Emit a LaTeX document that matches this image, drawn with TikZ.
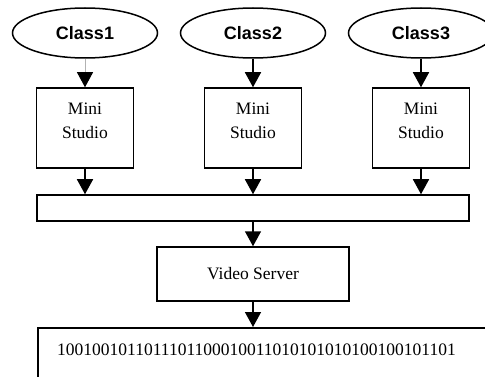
\documentclass[tikz,border=0pt]{standalone}
\usepackage{fontspec}
\setmainfont{Liberation Serif}
\newfontfamily\headfont{Liberation Sans}
\usetikzlibrary{shapes.geometric,arrows.meta}
\begin{document}
\begin{tikzpicture}[x=1pt,y=-1pt,
  line width=1.5pt,
  classnode/.style={draw, ellipse, minimum width=145pt, minimum height=50pt,
    inner sep=0pt, font=\headfont\bfseries\fontsize{18}{21}\selectfont},
  boxnode/.style={draw, rectangle, inner sep=0pt},
  lbl/.style={inner sep=0pt, font=\fontsize{17.5}{24}\selectfont, align=center},
  flow/.style={-{Triangle[length=15pt,width=16pt]}},
]
\useasboundingbox (0,0) rectangle (485,377);
\clip (0,0) rectangle (485,377);

% class sources
\node[classnode] (c1) at (85,33)  {Class1};
\node[classnode] (c2) at (253,33) {Class2};
\node[classnode] (c3) at (421,33) {Class3};

% mini studios
\node[boxnode, minimum width=97pt, minimum height=80pt] (m1) at (85,128)  {};
\node[boxnode, minimum width=97pt, minimum height=80pt] (m2) at (253,128) {};
\node[boxnode, minimum width=97pt, minimum height=80pt] (m3) at (421,128) {};
\node[lbl, anchor=north] (t1) at (85,102)  {Mini\\Studio};
\node[lbl, anchor=north] (t2) at (253,102) {Mini\\Studio};
\node[lbl, anchor=north] (t3) at (421,102) {Mini\\Studio};

% collecting bar
\node[boxnode, minimum width=432pt, minimum height=26pt] (bar) at (253,208) {};

% video server
\node[boxnode, minimum width=192pt, minimum height=54pt] (vs) at (253,274) {};
\node[lbl, anchor=base] (tvs) at (253,279) {Video Server};

% output stream
\node[boxnode, anchor=north west, minimum width=470pt, minimum height=80pt] (out) at (37,327) {};
\node[lbl, anchor=base] (bits) at (256.5,355) {1001001011011101100010011010101010100100101101};

% connectors
\draw[-{Triangle[length=15pt,width=16pt,color=black]}, gray!60, line width=1pt] (c1.south) -- (m1.north);
\draw[flow] (c2.south) -- (m2.north);
\draw[flow] (c3.south) -- (m3.north);
\draw[flow] (m1.south) -- (m1.south |- bar.north);
\draw[flow] (m2.south) -- (m2.south |- bar.north);
\draw[flow] (m3.south) -- (m3.south |- bar.north);
\draw[flow] (bar.south) -- (vs.north);
\draw[flow] (vs.south) -- (vs.south |- out.north);
\end{tikzpicture}
\end{document}
